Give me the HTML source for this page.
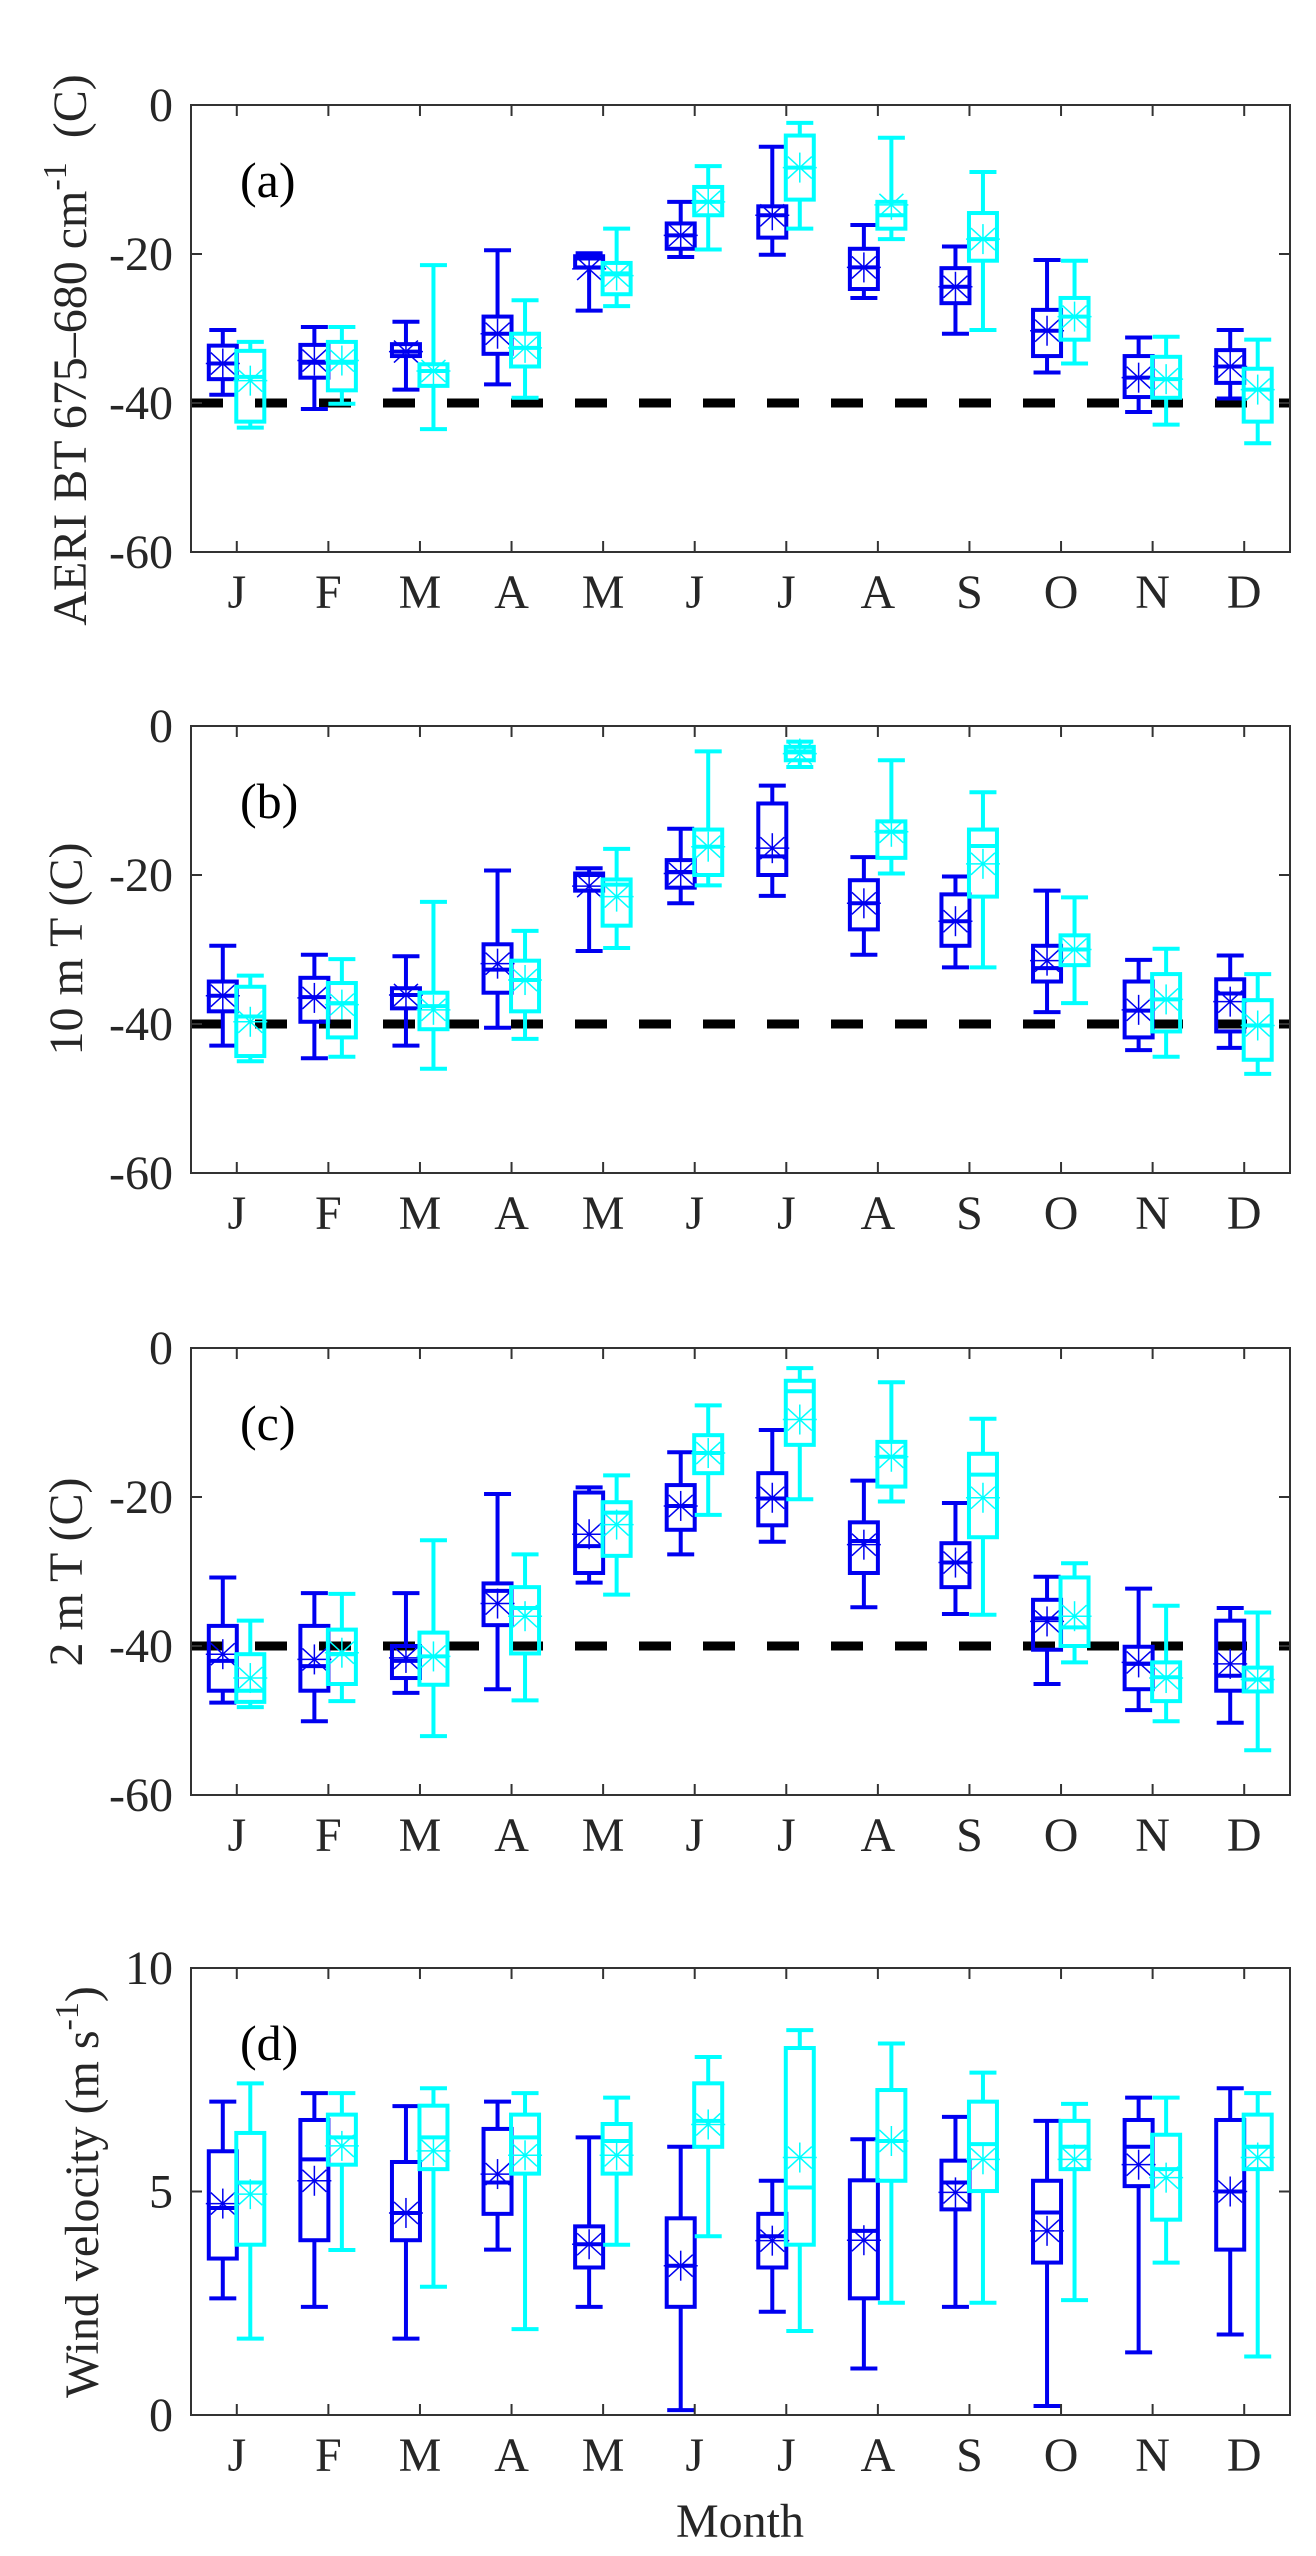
<!DOCTYPE html>
<html><head><meta charset="utf-8"><title>Monthly box plots</title>
<style>
html,body{margin:0;padding:0;background:#fff;}
svg{display:block;font-family:"Liberation Serif","DejaVu Serif",serif;}
</style></head>
<body>
<svg id="fig" width="1316" height="2556" viewBox="0 0 1316 2556" xmlns="http://www.w3.org/2000/svg"></svg>
<script>
const months = ["J","F","M","A","M","J","J","A","S","O","N","D"];
const tempTicks = [0,-20,-40,-60];
const windTicks = [0,5,10];
// each entry: [low whisker, q1, median, q3, high whisker, mean]
const aBlue = [[-38.9,-36.8,-34.7,-32.3,-30.2,-34.7],[-40.8,-36.6,-34.6,-32.2,-29.8,-34.3],[-38.2,-33.7,-33.1,-32.1,-29.1,-33.1],[-37.5,-33.4,-30.7,-28.4,-19.5,-30.7],[-27.6,-21.8,-20.6,-20.3,-19.9,-22.0],[-20.4,-19.3,-17.5,-15.9,-13.0,-17.5],[-20.1,-17.8,-14.8,-13.6,-5.6,-14.8],[-25.9,-24.7,-21.8,-19.3,-16.1,-21.8],[-30.7,-26.6,-24.4,-21.9,-19.0,-24.4],[-35.9,-33.7,-30.3,-27.5,-20.8,-30.3],[-41.2,-39.2,-36.6,-33.7,-31.2,-36.6],[-39.4,-37.3,-35.1,-32.9,-30.2,-35.1]];
const aCyan = [[-43.3,-42.5,-36.5,-33.0,-31.8,-37.0],[-40.1,-38.3,-34.6,-31.8,-29.8,-34.3],[-43.5,-37.7,-35.7,-34.8,-21.5,-35.7],[-39.3,-35.1,-32.6,-30.7,-26.2,-32.6],[-27.0,-25.4,-22.6,-21.2,-16.6,-22.9],[-19.4,-14.8,-13.0,-11.0,-8.2,-13.0],[-16.6,-12.7,-8.4,-4.1,-2.4,-8.4],[-18.0,-16.6,-14.8,-13.0,-4.4,-13.4],[-30.2,-20.9,-18.0,-14.5,-9.0,-18.0],[-34.7,-31.5,-28.4,-25.9,-20.9,-28.4],[-42.9,-39.3,-36.8,-33.8,-31.1,-36.8],[-45.4,-42.5,-38.2,-35.4,-31.5,-38.2]];
const bBlue = [[-42.9,-38.3,-36.2,-34.3,-29.5,-36.2],[-44.6,-39.7,-36.4,-33.8,-30.7,-36.5],[-42.9,-37.9,-36.1,-35.2,-30.9,-36.1],[-40.5,-35.8,-32.7,-29.3,-19.4,-31.9],[-30.2,-22.1,-20.0,-19.8,-19.1,-21.5],[-23.8,-21.7,-19.6,-18.0,-13.8,-19.8],[-22.8,-20.0,-17.5,-10.4,-8.0,-16.4],[-30.7,-27.3,-23.8,-20.7,-17.6,-23.8],[-32.4,-29.5,-26.2,-22.6,-20.2,-26.2],[-38.4,-34.3,-32.5,-29.5,-22.1,-31.5],[-43.5,-41.8,-38.2,-34.3,-31.4,-38.1],[-43.2,-41.0,-35.9,-34.0,-30.8,-37.0]];
const bCyan = [[-45.0,-44.3,-39.0,-35.0,-33.5,-39.7],[-44.4,-41.8,-37.2,-34.5,-31.3,-37.4],[-46.0,-40.7,-37.6,-35.8,-23.6,-38.1],[-42.0,-38.3,-34.1,-31.5,-27.5,-34.1],[-29.8,-26.8,-21.3,-20.6,-16.5,-22.9],[-21.4,-20.0,-16.2,-13.9,-3.4,-16.2],[-5.5,-4.6,-3.4,-2.8,-2.1,-3.7],[-19.8,-17.7,-14.2,-12.8,-4.6,-14.2],[-32.4,-22.9,-16.1,-13.9,-8.9,-18.5],[-37.2,-32.1,-30.0,-28.1,-23.0,-30.0],[-44.4,-41.0,-36.7,-33.3,-29.9,-36.7],[-46.7,-44.8,-40.2,-36.8,-33.3,-40.2]];
const cBlue = [[-47.6,-46.0,-42.0,-37.3,-30.8,-41.1],[-50.1,-46.0,-42.7,-37.3,-32.9,-41.8],[-46.3,-44.3,-42.0,-40.0,-32.9,-41.6],[-45.8,-37.2,-32.6,-31.6,-19.6,-34.3],[-31.5,-30.2,-26.6,-19.4,-18.7,-25.0],[-27.7,-24.4,-21.2,-18.4,-14.0,-21.2],[-26.0,-23.8,-20.2,-16.8,-11.0,-20.1],[-34.8,-30.2,-25.9,-23.4,-17.8,-26.4],[-35.7,-32.1,-28.8,-26.2,-20.8,-28.8],[-45.1,-40.5,-36.3,-33.8,-30.7,-36.7],[-48.6,-45.8,-42.4,-40.1,-32.3,-42.2],[-50.3,-46.0,-44.0,-36.6,-34.9,-42.4]];
const cCyan = [[-48.2,-47.5,-46.0,-41.1,-36.6,-44.3],[-47.4,-45.1,-41.1,-37.8,-33.0,-40.9],[-52.1,-45.2,-41.4,-38.2,-25.8,-41.4],[-47.3,-41.0,-34.9,-32.1,-27.7,-36.0],[-33.1,-27.9,-22.1,-20.7,-17.1,-23.7],[-22.4,-16.8,-14.1,-11.7,-7.7,-14.1],[-20.3,-13.0,-5.8,-4.4,-2.7,-9.6],[-20.6,-18.6,-14.6,-12.6,-4.6,-14.6],[-35.8,-25.4,-17.0,-14.2,-9.5,-20.1],[-42.2,-40.0,-37.5,-30.8,-28.9,-36.0],[-50.1,-47.4,-44.2,-42.2,-34.6,-44.3],[-54.0,-46.1,-44.5,-42.9,-35.5,-44.5]];
const dBlue = [[2.61,3.5,4.63,5.9,7.01,4.73],[2.42,3.91,5.72,6.6,7.2,5.24],[1.71,3.91,4.52,5.66,6.91,4.52],[3.7,4.5,5.2,6.4,7.01,5.39],[2.42,3.3,3.82,4.22,6.21,3.82],[0.11,2.42,3.34,4.4,6.0,3.34],[2.31,3.3,4.0,4.5,5.24,3.9],[1.04,2.61,4.12,5.25,6.17,3.91],[2.42,4.6,5.2,5.69,6.67,4.98],[0.2,3.41,4.53,5.24,6.58,4.12],[1.4,5.12,6.0,6.6,7.1,5.6],[1.8,3.7,5.0,6.6,7.31,5.0]];
const dCyan = [[1.71,3.81,5.2,6.31,7.42,4.94],[3.69,5.6,6.21,6.72,7.2,6.02],[2.87,5.5,6.21,6.92,7.31,5.91],[1.92,5.4,6.21,6.72,7.2,5.81],[3.81,5.4,6.13,6.51,7.1,5.81],[4.0,6.0,6.58,7.42,8.01,6.5],[1.88,3.81,5.09,8.21,8.61,5.76],[2.51,5.24,6.13,7.27,8.31,6.13],[2.51,5.01,6.06,7.01,7.66,5.72],[2.57,5.5,6.0,6.58,6.96,5.72],[3.41,4.37,5.5,6.27,7.1,5.31],[1.31,5.5,6.0,6.72,7.2,5.76]];

const NS = "http://www.w3.org/2000/svg";
const svg = document.getElementById("fig");
const BLUE = "#0000f0", CYAN = "#00ffff", TXT = "#262626";
const L = 191, R = 1290;
function mk(tag, attrs, parent){
  const e = document.createElementNS(NS, tag);
  for (const k in attrs) e.setAttribute(k, attrs[k]);
  (parent||svg).appendChild(e); return e;
}
function xOf(i){ return L + (i + 0.5) * (R - L) / 12; }

const panels = [
  {key:"a", top:105, ymin:-60, ymax:0, ticks:tempTicks, blue:aBlue, cyan:aCyan, ref:-40, label:"(a)", tc:350, tx:86},
  {key:"b", top:726, ymin:-60, ymax:0, ticks:tempTicks, blue:bBlue, cyan:bCyan, ref:-40, label:"(b)", tc:949, tx:82, title:"10 m T (C)"},
  {key:"c", top:1348, ymin:-60, ymax:0, ticks:tempTicks, blue:cBlue, cyan:cCyan, ref:-40, label:"(c)", tc:1572, tx:82, title:"2 m T (C)"},
  {key:"d", top:1968, ymin:0, ymax:10, ticks:windTicks, blue:dBlue, cyan:dCyan, ref:null, label:"(d)", tc:2192, tx:98}
];
const H = 447;

panels.forEach(p => {
  const g = mk("g", {});
  
  
  const bot = p.top + H;
  const yOf = v => bot - (v - p.ymin) / (p.ymax - p.ymin) * H;

  // reference dashed line
  if (p.ref !== null) {
    const d = mk("line", {x1:L, x2:R, y1:yOf(p.ref), y2:yOf(p.ref), stroke:"#000", "stroke-width":9, "stroke-dasharray":"32 32"}, g);
    
    
  }

  // boxes
  [[p.blue, BLUE, -14, "blue"], [p.cyan, CYAN, 13.5, "cyan"]].forEach(([arr, col, off, nm]) => {
    arr.forEach((s, i) => {
      const cx = xOf(i) + off, hw = 14, cw = 13.5;
      const bg = mk("g", {stroke:col, fill:"none"}, g);
      
      
      const [lo, q1, med, q3, hi, mean] = s;
      mk("line", {x1:cx, x2:cx, y1:yOf(lo), y2:yOf(q1), "stroke-width":4}, bg);
      mk("line", {x1:cx, x2:cx, y1:yOf(q3), y2:yOf(hi), "stroke-width":4}, bg);
      mk("line", {x1:cx-cw, x2:cx+cw, y1:yOf(lo), y2:yOf(lo), "stroke-width":4}, bg);
      mk("line", {x1:cx-cw, x2:cx+cw, y1:yOf(hi), y2:yOf(hi), "stroke-width":4}, bg);
      mk("rect", {x:cx-hw, y:yOf(q3), width:2*hw, height:Math.max(1, yOf(q1)-yOf(q3)), "stroke-width":4}, bg);
      mk("line", {x1:cx-hw, x2:cx+hw, y1:yOf(med), y2:yOf(med), "stroke-width":4}, bg);
      const my = yOf(mean);
      mk("line", {x1:cx-17, x2:cx+17, y1:my, y2:my, "stroke-width":1.5}, bg);
      mk("line", {x1:cx, x2:cx, y1:my-15, y2:my+15, "stroke-width":1.5}, bg);
      mk("line", {x1:cx-12, x2:cx+12, y1:my-11, y2:my+11, "stroke-width":1.5}, bg);
      mk("line", {x1:cx-12, x2:cx+12, y1:my+11, y2:my-11, "stroke-width":1.5}, bg);
    });
  });

  // frame
  const fr = mk("rect", {x:L, y:p.top, width:R-L, height:H, fill:"none", stroke:"#333", "stroke-width":2}, g);
  
  

  // x ticks and labels
  months.forEach((m, i) => {
    const x = xOf(i);
    mk("line", {x1:x, x2:x, y1:bot, y2:bot-11, stroke:"#333", "stroke-width":2}, g);
    mk("line", {x1:x, x2:x, y1:p.top, y2:p.top+11, stroke:"#333", "stroke-width":2}, g);
    const t = mk("text", {x:x, y:bot+56, "text-anchor":"middle", "font-size":48, fill:TXT}, g);
    t.textContent = m;
    
    
  });

  // y ticks and labels
  p.ticks.forEach(v => {
    const y = yOf(v);
    mk("line", {x1:L, x2:L+11, y1:y, y2:y, stroke:"#333", "stroke-width":2}, g);
    mk("line", {x1:R, x2:R-11, y1:y, y2:y, stroke:"#333", "stroke-width":2}, g);
    const t = mk("text", {x:173, y:y+16, "text-anchor":"end", "font-size":48, fill:TXT}, g);
    t.textContent = v;
    
    
  });

  // panel label
  const pl = mk("text", {x:240, y:p.top+92, "font-size":50, fill:"#000"}, g);
  pl.textContent = p.label;
  
  

  // y-axis title
  const yt = mk("text", {x:p.tx, y:p.tc, "text-anchor":"middle", "font-size":48, fill:TXT, transform:"rotate(-90 " + p.tx + " " + p.tc + ")"}, g);
  
  
  if (p.key === "a") {
    yt.innerHTML = 'AERI BT 675\u2013680 cm<tspan dy="-20" font-size="34">-1</tspan><tspan dy="20"> \u00a0(C)</tspan>';
  } else if (p.key === "d") {
    yt.innerHTML = 'Wind velocity (m s<tspan dy="-20" font-size="34">-1</tspan><tspan dy="20">)</tspan>';
  } else {
    yt.textContent = p.title;
  }
});

const xt = mk("text", {x:740, y:2537, "text-anchor":"middle", "font-size":48, fill:TXT});
xt.textContent = "Month";


</script>
</body></html>
